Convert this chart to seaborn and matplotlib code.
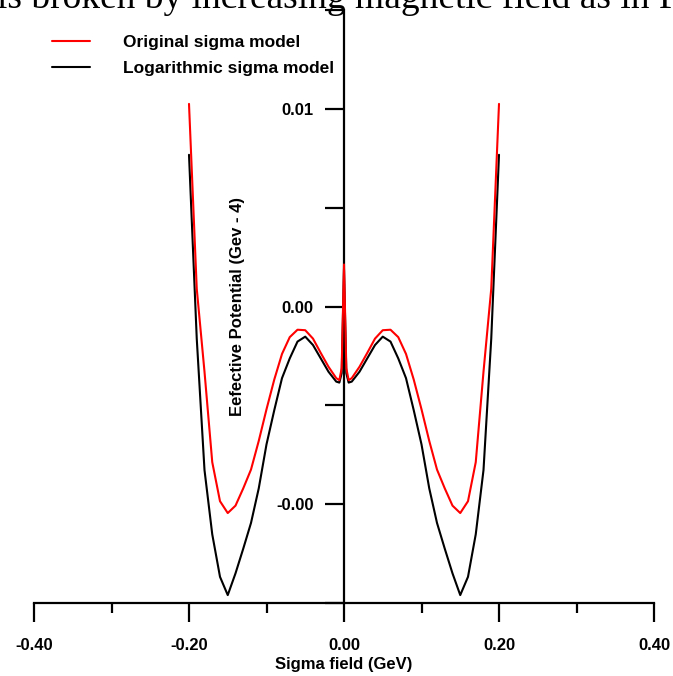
import pandas as pd
import matplotlib
matplotlib.use("Agg")
import matplotlib.pyplot as plt
import seaborn as sns

# sigma field (GeV)
sigma = [-0.20, -0.19, -0.18, -0.17, -0.16, -0.15, -0.14, -0.13, -0.12, -0.11,
         -0.10, -0.09, -0.08, -0.07, -0.06, -0.05, -0.04, -0.03, -0.02, -0.01,
         -0.006, -0.003, 0.0, 0.003, 0.006,
         0.01, 0.02, 0.03, 0.04, 0.05, 0.06, 0.07, 0.08, 0.09, 0.10,
         0.11, 0.12, 0.13, 0.14, 0.15, 0.16, 0.17, 0.18, 0.19, 0.20]

# effective potential, in units of 1e-3 GeV^4
original = [6.10, 2.36, 0.68, -1.15, -1.94, -2.18, -2.03, -1.68, -1.30, -0.72,
            -0.08, 0.52, 1.04, 1.38, 1.53, 1.52, 1.35, 1.06, 0.78, 0.55,
            0.51, 0.75, 2.85, 0.75, 0.51,
            0.55, 0.78, 1.06, 1.35, 1.52, 1.53, 1.38, 1.04, 0.52, -0.08,
            -0.72, -1.30, -1.68, -2.03, -2.18, -1.94, -1.15, 0.68, 2.36, 6.10]

logarithmic = [5.07, 1.35, -1.31, -2.61, -3.47, -3.84, -3.40, -2.90, -2.38, -1.68,
               -0.79, -0.10, 0.55, 0.95, 1.29, 1.39, 1.22, 0.95, 0.68, 0.48,
               0.46, 0.65, 2.75, 0.65, 0.46,
               0.48, 0.68, 0.95, 1.22, 1.39, 1.29, 0.95, 0.55, -0.10, -0.79,
               -1.68, -2.38, -2.90, -3.40, -3.84, -3.47, -2.61, -1.31, 1.35, 5.07]

models = ["Original sigma model", "Logarithmic sigma model"]
colors = {models[0]: "#ff0000", models[1]: "#000000"}

x_ticks = [-0.4, -0.2, 0.0, 0.2, 0.4]
x_labels = ["-0.40", "-0.20", "0.00", "0.20", "0.40"]
x_minor = [-0.3, -0.1, 0.1, 0.3]
y_ticks = [-0.004, -0.002, 0.0, 0.002, 0.004, 0.006, 0.008]
y_labels = ["", "-0.00", "", "0.00", "", "0.01", ""]

df = pd.DataFrame({"sigma": sigma,
                   models[0]: [v * 1e-3 for v in original],
                   models[1]: [v * 1e-3 for v in logarithmic]})
long_df = df.melt(id_vars="sigma", var_name="model", value_name="potential")

sns.set_style("ticks")
plt.rcParams["font.family"] = ["Liberation Sans", "DejaVu Sans"]
plt.rcParams["font.weight"] = "bold"
for key in ["text.color", "axes.labelcolor", "xtick.color", "ytick.color", "axes.edgecolor"]:
    plt.rcParams[key] = "black"

fig = plt.figure(figsize=(6.73, 6.76), dpi=100)
ax = fig.add_axes([34 / 673, 73 / 676, 620 / 673, 593 / 676])

# black first so the red curve sits on top
sns.lineplot(data=long_df, x="sigma", y="potential", hue="model",
             hue_order=[models[1], models[0]], palette=colors,
             linewidth=1.5, errorbar=None, ax=ax, zorder=3)

ax.set_xlim(-0.4, 0.4)
ax.set_ylim(-0.004, 0.008)

for s in ["top", "right"]:
    ax.spines[s].set_visible(False)
ax.spines["left"].set_position(("data", 0))
ax.spines["left"].set_linewidth(1.6)
ax.spines["bottom"].set_linewidth(1.6)

ax.set_xticks(x_ticks)
ax.set_xticklabels(x_labels, fontsize=12, fontweight="bold")
ax.set_xticks(x_minor, minor=True)
ax.tick_params(axis="x", which="major", direction="out", length=14, width=1.6, pad=11)
ax.tick_params(axis="x", which="minor", direction="out", length=7, width=1.6)

ax.set_yticks(y_ticks)
ax.set_yticklabels(y_labels, fontsize=12, fontweight="bold")
ax.tick_params(axis="y", which="major", direction="out", length=14, width=1.6, pad=8)

ax.set_xlabel("Sigma field (GeV)", fontsize=12, fontweight="bold")
ax.xaxis.set_label_coords(0.5, -0.091)
ax.set_ylabel("Eefective Potential (Gev - 4)", fontsize=12, fontweight="bold")
ax.yaxis.set_label_coords((245 - 34) / 620, 0.5)

handles, labels = ax.get_legend_handles_labels()
ax.legend(handles[::-1], labels[::-1], loc="upper left",
          bbox_to_anchor=(52 / 673, 1 - 35 / 676), bbox_transform=fig.transFigure,
          frameon=False, handlelength=2.2, handletextpad=1.9,
          labelspacing=0.62, borderpad=0, borderaxespad=0,
          prop={"weight": "bold", "size": 12.5})

# clipped line of the surrounding page text
fig.text(-3 / 673, 1 - 8 / 676, "is broken by increasing magnetic field as in F",
         fontsize=27, family="Liberation Serif", fontweight="normal",
         ha="left", va="baseline")

fig.savefig("out.png", dpi=100)
